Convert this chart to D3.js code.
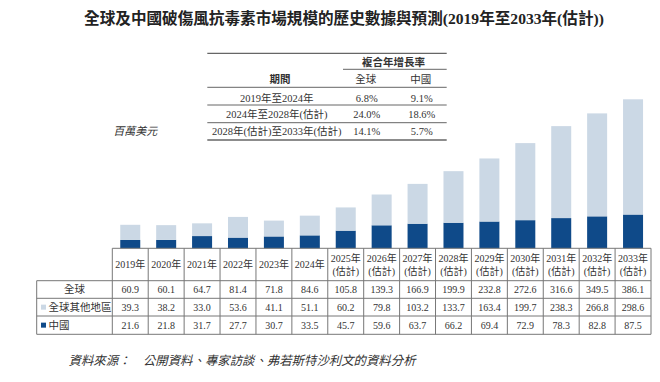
<!DOCTYPE html>
<html><head><meta charset="utf-8">
<script src="https://cdn.jsdelivr.net/npm/d3@7"></script>
<style>
html,body{margin:0;padding:0;background:#fff;}
svg{display:block;font-family:"Liberation Serif","Noto Sans CJK TC",serif;}
</style></head>
<body><svg id="c" width="660" height="382"></svg>
<script>
const years = ["2019年","2020年","2021年","2022年","2023年","2024年","2025年","2026年","2027年","2028年","2029年","2030年","2031年","2032年","2033年"];
const yearSub = ["","","","","","","(估計)","(估計)","(估計)","(估計)","(估計)","(估計)","(估計)","(估計)","(估計)"];
const globalTotal = [60.9,60.1,64.7,81.4,71.8,84.6,105.8,139.3,166.9,199.9,232.8,272.6,316.6,349.5,386.1];
const restOfWorld = [39.3,38.2,33.0,53.6,41.1,51.1,60.2,79.8,103.2,133.7,163.4,199.7,238.3,266.8,298.6];
const china = [21.6,21.8,31.7,27.7,30.7,33.5,45.7,59.6,63.7,66.2,69.4,72.9,78.3,82.8,87.5];
const rowLabels = ["全球","全球其他地區","中國"];
const cagrPeriods = ["2019年至2024年","2024年至2028年(估計)","2028年(估計)至2033年(估計)"];
const cagrGlobal = ["6.8%","24.0%","14.1%"];
const cagrChina = ["9.1%","18.6%","5.7%"];
const titleText = "全球及中國破傷風抗毒素市場規模的歷史數據與預測(2019年至2033年(估計))";
const unitText = "百萬美元";
const sourceText = "資料來源：　公開資料、專家訪談、弗若斯特沙利文的資料分析";

const DARK = "#0f4a89", LIGHT = "#cbd8e5", TXT = "#333", GRID = "#777";
const svg = d3.select("#c");

// title
svg.append("text").attr("x",344).attr("y",24).attr("text-anchor","middle")
  .attr("font-size",15.6).attr("font-weight","bold").attr("fill","#222").text(titleText);

// scales
const x = d3.scaleBand().domain(years).range([112.3,651]).paddingInner(0.443).paddingOuter(0.2215);
const y = d3.scaleLinear().domain([0,386.1]).range([248.3,99.3]);

const stackData = years.map((yr,i)=>({year:yr, china:china[i], rest:restOfWorld[i]}));
const series = d3.stack().keys(["china","rest"])(stackData);
const colors = {china:DARK, rest:LIGHT};
svg.append("g").selectAll("g").data(series).join("g").attr("fill",d=>colors[d.key])
  .selectAll("rect").data(d=>d).join("rect")
  .attr("x",d=>x(d.data.year)).attr("width",x.bandwidth())
  .attr("y",d=>y(d[1])).attr("height",d=>y(d[0])-y(d[1]));

// axis line
const base = y(0);
svg.append("line").attr("x1",112.3).attr("x2",651).attr("y1",base).attr("y2",base)
  .attr("stroke",GRID).attr("stroke-width",1);

// data table
const rowTop = [280.7,298.3,316,334.3];
const tbl = svg.append("g").attr("stroke",GRID).attr("stroke-width",1).attr("fill","none");
rowTop.forEach(r=>tbl.append("line").attr("x1",36.7).attr("x2",651).attr("y1",r).attr("y2",r));
const step = x.step();
const colEdges = d3.range(years.length+1).map(i=>112.3+i*step);
colEdges.forEach(cx=>tbl.append("line").attr("x1",cx).attr("x2",cx).attr("y1",base).attr("y2",rowTop[3]));
tbl.append("line").attr("x1",36.7).attr("x2",36.7).attr("y1",rowTop[0]).attr("y2",rowTop[3]);

const cx = d=>x(d)+x.bandwidth()/2;
const hdr = svg.append("g").attr("font-size",10).attr("fill",TXT).attr("text-anchor","middle");
years.forEach((yr,i)=>{
  hdr.append("text").attr("x",cx(yr)).attr("y",yearSub[i]?262:268).text(yr);
  if(yearSub[i]) hdr.append("text").attr("x",cx(yr)).attr("y",275).text(yearSub[i]);
});
const rowsVals = [globalTotal, restOfWorld, china];
const vg = svg.append("g").attr("font-size",10).attr("fill",TXT).attr("text-anchor","middle");
rowsVals.forEach((vals,r)=>{
  vals.forEach((v,i)=>vg.append("text").attr("x",cx(years[i])).attr("y",(rowTop[r]+rowTop[r+1])/2+3.5).text(v.toFixed(1)));
});
// row labels
const lg = svg.append("g").attr("font-size",10.5).attr("fill",TXT);
lg.append("text").attr("x",74.5).attr("y",(rowTop[0]+rowTop[1])/2+3.7).attr("text-anchor","middle").text(rowLabels[0]);
lg.append("rect").attr("x",41).attr("y",(rowTop[1]+rowTop[2])/2-2.5).attr("width",5).attr("height",5).attr("fill",LIGHT);
lg.append("text").attr("x",48.5).attr("y",(rowTop[1]+rowTop[2])/2+3.7).text(rowLabels[1]);
lg.append("rect").attr("x",41).attr("y",(rowTop[2]+rowTop[3])/2-2.5).attr("width",5).attr("height",5).attr("fill",DARK);
lg.append("text").attr("x",48.5).attr("y",(rowTop[2]+rowTop[3])/2+3.7).text(rowLabels[2]);

// CAGR table
const cg = svg.append("g").attr("font-size",10.5).attr("fill",TXT).attr("text-anchor","middle");
const cl = svg.append("g").attr("stroke","#666");
cl.append("line").attr("x1",207.3).attr("x2",446.7).attr("y1",53.3).attr("y2",53.3).attr("stroke-width",1.3);
cl.append("line").attr("x1",343).attr("x2",446.7).attr("y1",69.3).attr("y2",69.3).attr("stroke-width",1);
[87.3,105,122.7].forEach(yy=>cl.append("line").attr("x1",207.3).attr("x2",446.7).attr("y1",yy).attr("y2",yy).attr("stroke-width",1));
cl.append("line").attr("x1",207.3).attr("x2",446.7).attr("y1",140).attr("y2",140).attr("stroke-width",1.3);
cg.append("text").attr("x",393.5).attr("y",65.5).attr("font-weight","bold").text("複合年增長率");
cg.append("text").attr("x",280).attr("y",83).attr("font-weight","bold").text("期間");
cg.append("text").attr("x",365.7).attr("y",83).text("全球");
cg.append("text").attr("x",420.7).attr("y",83).text("中國");
const rowY = [101.5,117.8,134.5];
cagrPeriods.forEach((p,i)=>{
  cg.append("text").attr("x",276.7).attr("y",rowY[i]).text(p);
  cg.append("text").attr("x",366.7).attr("y",rowY[i]).text(cagrGlobal[i]);
  cg.append("text").attr("x",421.7).attr("y",rowY[i]).text(cagrChina[i]);
});

// unit label
svg.append("text").attr("x",113.3).attr("y",134.5).attr("font-size",11).attr("font-style","italic").attr("fill",TXT).text(unitText);

// source
svg.append("text").attr("x",68.6).attr("y",365).attr("font-size",12.4).attr("font-style","italic").attr("fill",TXT).text(sourceText);
</script></body></html>
